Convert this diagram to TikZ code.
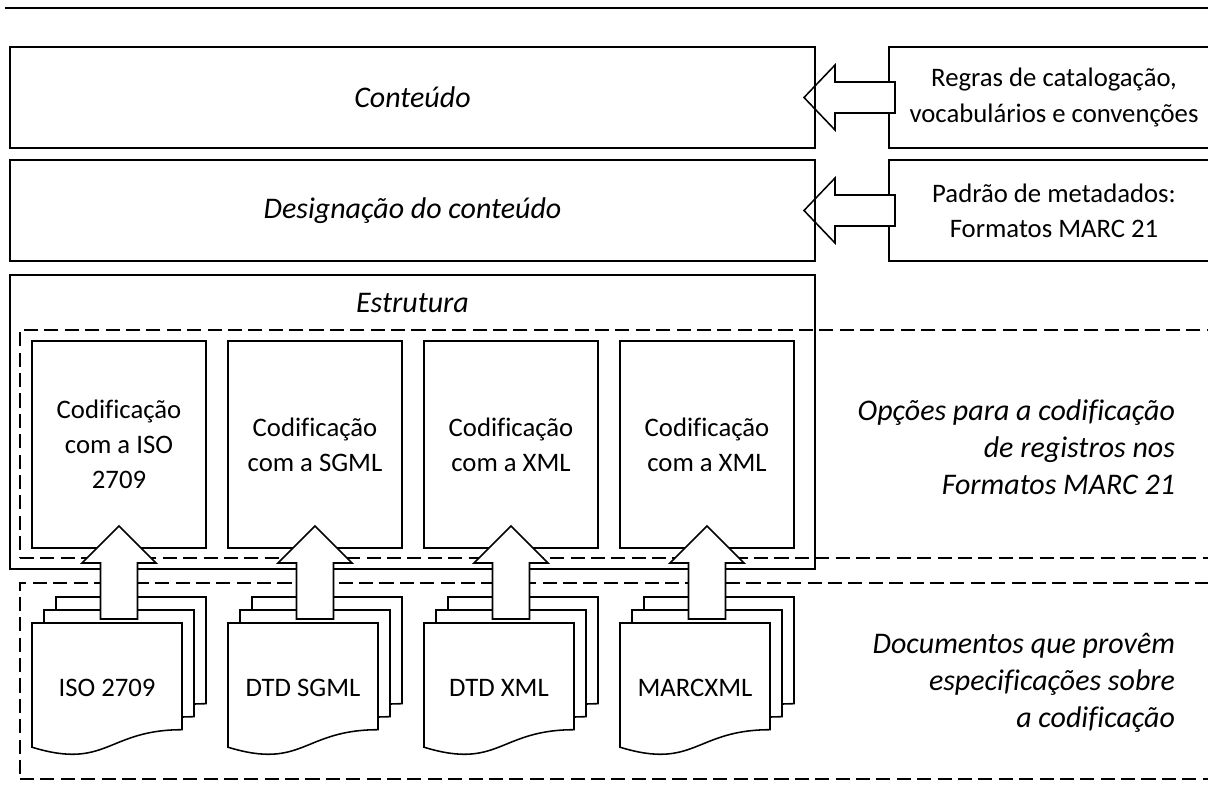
\documentclass[tikz,border=0pt]{standalone}
\usepackage{fontspec}
\setmainfont{Carlito}[Ligatures=NoCommon]

\newcommand{\pxu}{0.025cm}

\tikzset{%
    every node/.style={inner sep=0pt, outer sep=0pt, align=center,
        font=\fontsize{19}{25}\selectfont},
    panel/.style={rectangle, draw, line width=1.1pt},
    zone/.style={rectangle, draw, line width=1.1pt,
        dash pattern=on 10pt off 4.5pt},
    italtext/.style={font=\fontsize{21.3}{26.5}\selectfont\itshape},
    page/.style={draw, fill=white, line width=1.1pt},
    docpage/.pic={\draw[page] (0,0) -- (150,0) -- (150,106.7)
        .. controls (75,106.7) and (75,147.2) .. (0,124.2) -- cycle;},
    docstack/.pic={\pic at (24,-26) {docpage}; \pic at (12,-13) {docpage};
        \pic at (0,0) {docpage};},
    uparrow/.pic={\draw[page] (0,0) -- (37,37) -- (18.5,37) -- (18.5,93)
        -- (-18.5,93) -- (-18.5,37) -- (-37,37) -- cycle;},
    leftarrow/.pic={\draw[page] (0,0) -- (31,-32.5) -- (31,-15.5)
        -- (91,-15.5) -- (91,15.5) -- (31,15.5) -- (31,32.5) -- cycle;}
}

\begin{document}
\begin{tikzpicture}[x=0.025cm, y=-0.025cm]
  \useasboundingbox (0,0) rectangle (1208,811);
  \clip (0,0) rectangle (1208,811);

  \draw[line width=1.9pt] (5,8) -- (1215,8);

  % sources on the right
  \node[panel, minimum width=330*\pxu, minimum height=101*\pxu] (r1)
    at (1054,97.5) {Regras de catalogação,\\vocabulários e convenções};
  \node[panel, minimum width=330*\pxu, minimum height=101*\pxu] (r2)
    at (1054,210.5) {Padrão de metadados:\\Formatos MARC 21};

  \pic[shift={(-85,0)}] at (r1.west) {leftarrow};
  \pic[shift={(-85,0)}] at (r2.west) {leftarrow};

  \node[panel, italtext, minimum width=805*\pxu, minimum height=101*\pxu]
    (cont) at (412.5,97.5) {Conteúdo};
  \node[panel, italtext, minimum width=805*\pxu, minimum height=101*\pxu]
    (desig) at (412.5,210.5) {Designação do conteúdo};

  % dashed groups
  \node[zone, minimum width=1200*\pxu, minimum height=228*\pxu] (opc)
    at (620,444) {};
  \node[zone, minimum width=1200*\pxu, minimum height=196*\pxu] (docs)
    at (620,681) {};

  \node[panel, minimum width=805*\pxu, minimum height=294*\pxu] (estr)
    at (412.5,422) {};
  \node[italtext] (estrt) at (412.5,303) {Estrutura};

  \node[italtext, anchor=east, align=right] (opct) at (1175,447)
    {Opções para a codificação\\de registros nos\\Formatos MARC 21};
  \node[italtext, anchor=east, align=right] (docst) at (1175,683)
    {Documentos que provêm\\especificações sobre\\a codificação};

  % encodings
  \node[panel, minimum width=174*\pxu, minimum height=207*\pxu] (c1)
    at (119,444.5) {Codificação\\com a ISO\\2709};
  \node[panel, minimum width=174*\pxu, minimum height=207*\pxu] (c2)
    at (315,444.5) {Codificação\\com a SGML};
  \node[panel, minimum width=174*\pxu, minimum height=207*\pxu] (c3)
    at (511,444.5) {Codificação\\com a XML};
  \node[panel, minimum width=174*\pxu, minimum height=207*\pxu] (c4)
    at (707,444.5) {Codificação\\com a XML};

  % specification documents
  \pic at (32,623) {docstack};
  \pic at (228,623) {docstack};
  \pic at (424,623) {docstack};
  \pic at (620,623) {docstack};

  \node (d1) at (107,688) {ISO 2709};
  \node (d2) at (303,688) {DTD SGML};
  \node (d3) at (499,688) {DTD XML};
  \node (d4) at (695,688) {MARCXML};

  \pic[shift={(0,-22)}] at (c1.south) {uparrow};
  \pic[shift={(0,-22)}] at (c2.south) {uparrow};
  \pic[shift={(0,-22)}] at (c3.south) {uparrow};
  \pic[shift={(0,-22)}] at (c4.south) {uparrow};

\end{tikzpicture}
\end{document}
